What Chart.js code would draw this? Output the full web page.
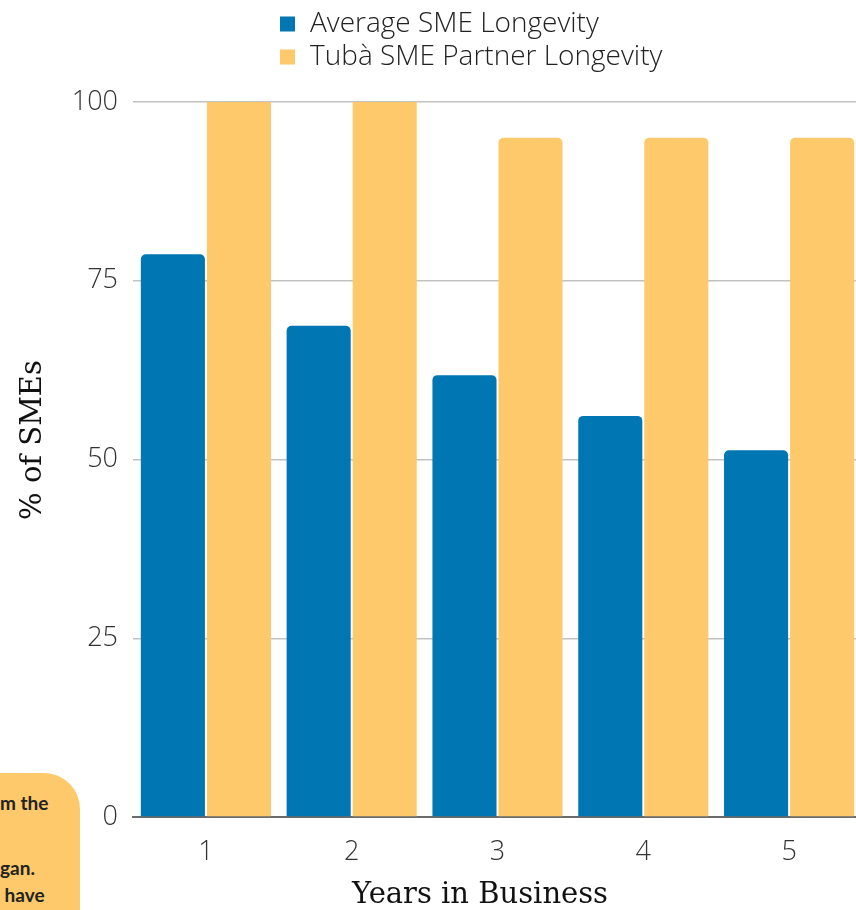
<!DOCTYPE html>
<html>
<head>
<meta charset="utf-8">
<script src="https://cdn.jsdelivr.net/npm/chart.js@4/dist/chart.umd.min.js"></script>
<style>
  html, body { margin: 0; padding: 0; background: #fff; overflow: hidden; }
  #wrap { position: relative; width: 862px; height: 910px; }
  .note {
    position: absolute; left: -60px; top: 773px; width: 140px; height: 200px;
    background: #fec96b; border-radius: 36px;
  }
  .note-text {
    position: absolute; font-family: Lato, sans-serif; font-weight: 700;
    font-size: 19px; color: #222; white-space: pre; line-height: 1;
  }
</style>
</head>
<body>
<div id="wrap">
  <canvas id="longevity"></canvas>
</div>
<div class="note"></div>
<div class="note-text" style="left:0px; top:793px;">m the</div>
<div class="note-text" style="left:0px; top:858px;">gan.</div>
<div class="note-text" style="left:0px; top:885px;"> have</div>

<script>
/* years in business */
var years = ["1", "2", "3", "4", "5"];

/* % of SMEs still trading */
var averageLongevity = [78.7, 68.7, 61.8, 56.1, 51.3];
var tubaPartnerLongevity = [100, 100, 95, 95, 95];

var yTicks = [0, 25, 50, 75, 100];

var xTitle = "Years in Business";
var yTitle = "% of SMEs";

var blue = "#0076b3";
var yellow = "#fec96b";

// legend stacked in two rows + axis captions, drawn by hand
var chartLabels = {
    id : "chartLabels",
    afterDraw : function (chart) {
        var ctx = chart.ctx;
        var rows = [24, 57];
        ctx.save();
        ctx.font = "300 28px 'Open Sans'";
        ctx.textBaseline = "middle";
        ctx.textAlign = "left";
        chart.data.datasets.forEach(function (ds, i) {
            ctx.fillStyle = ds.backgroundColor;
            ctx.fillRect(280, rows[i] - 7.5, 15, 15);
            ctx.fillStyle = "#222";
            ctx.fillText(ds.label, 310, rows[i]);
        });

        ctx.font = "29px 'DejaVu Serif'";
        ctx.fillStyle = "#111";
        ctx.textAlign = "center";
        ctx.fillText(xTitle, 480, 895);

        ctx.translate(33, 440);
        ctx.rotate(-Math.PI / 2);
        ctx.fillText(yTitle, 0, 0);
        ctx.restore();
    }
};

var canvasElement = document.getElementById("longevity");

var config =
{
    type : "bar",
    data :
    {
        labels : years,
        datasets : [
            {
                label : "Average SME Longevity",
                data : averageLongevity,
                backgroundColor : blue,
                borderRadius : 5,
                barPercentage : 0.97,
                categoryPercentage : 0.906,
            },
            {
                label : "Tubà SME Partner Longevity",
                data : tubaPartnerLongevity,
                backgroundColor : yellow,
                borderRadius : function (c) { return c.raw >= 100 ? 0 : 5; },
                barPercentage : 0.97,
                categoryPercentage : 0.906,
            },
        ],
    },
    options :
    {
        responsive : true,
        maintainAspectRatio : false,
        animation : false,
        layout : { padding : { top : 102, left : 0, right : 0, bottom : 0 } },
        plugins :
        {
            legend : { display : false },
            tooltip : { enabled : false },
        },
        scales :
        {
            x :
            {
                grid : { display : false, drawTicks : false },
                border : { display : true, color : "#6b6b6b", width : 2 },
                ticks : { padding : 19, color : "#333", font : { family : "Open Sans", size : 27, weight : "300" } },
                afterFit : function (scale) { scale.height = 93; },
            },
            y :
            {
                min : 0,
                max : 100,
                afterBuildTicks : function (scale) {
                    scale.ticks = yTicks.map(function (v) { return { value : v }; });
                },
                grid :
                {
                    drawTicks : false,
                    lineWidth : 1.5,
                    color : function (c) { return c.tick && c.tick.value === 0 ? "#6b6b6b" : "#c2c2c2"; },
                },
                border : { display : false },
                ticks : { padding : 15, color : "#333", font : { family : "Open Sans", size : 27, weight : "300" } },
                afterFit : function (scale) { scale.width = 133; },
            },
        },
    },
    plugins : [chartLabels],
};

var chart = new Chart(canvasElement, config);
</script>
</body>
</html>
